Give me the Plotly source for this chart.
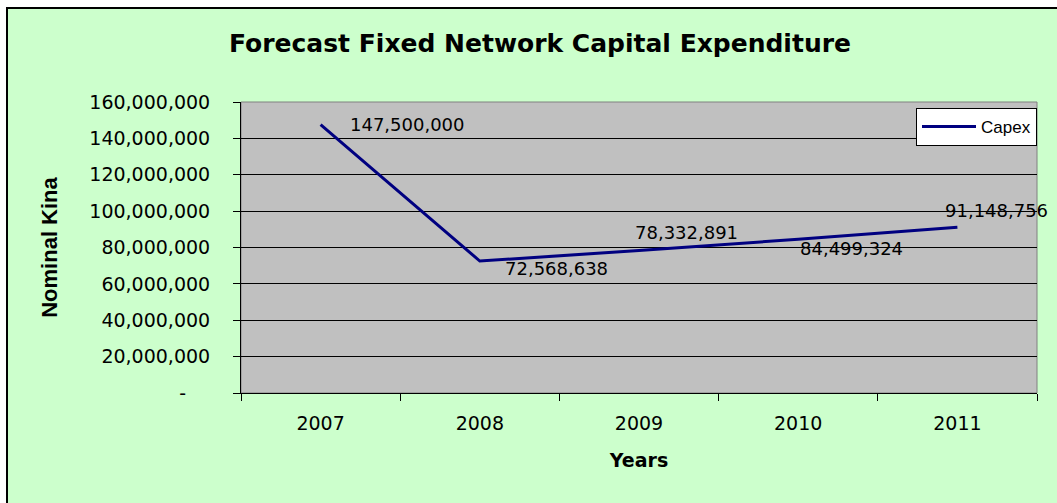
import plotly.graph_objects as go

# ---- data ----
years = ["2007", "2008", "2009", "2010", "2011"]
capex = [147500000, 72568638, 78332891, 84499324, 91148756]
capex_labels = ["147,500,000", "72,568,638", "78,332,891", "84,499,324", "91,148,756"]
y_tickvals = [0, 20000000, 40000000, 60000000, 80000000, 100000000, 120000000, 140000000, 160000000]
y_ticktext = ["-\u00a0\u00a0\u00a0\u00a0", "20,000,000", "40,000,000", "60,000,000", "80,000,000",
              "100,000,000", "120,000,000", "140,000,000", "160,000,000"]

# label offsets (pixels) - style only
label_xshift = [27, 23, -6, 0, -14]
label_yshift = [0, -7, 18, -9, 17]

W, H = 1057, 503
L, R, T, B = 241, 1037, 102, 393  # plot area pixel box

NUM_FONT = dict(family="DejaVu Sans", size=19, color="black")
LBL_FONT = dict(family="DejaVu Sans", size=18, color="black")

fig = go.Figure()
fig.add_trace(go.Scatter(
    x=years, y=capex, mode="lines", name="Capex",
    line=dict(color="#000080", width=3),
))

for i in range(len(years)):
    fig.add_annotation(
        x=i, y=capex[i], xref="x", yref="y",
        text=capex_labels[i], showarrow=False,
        xanchor="left", yanchor="middle",
        xshift=label_xshift[i], yshift=label_yshift[i],
        font=LBL_FONT,
    )

pw, ph = R - L, B - T
def px_x(p):
    return (p - L) / pw
def px_y(p):
    return (B - p) / ph

# outer green chart frame
fig.add_shape(type="rect", xref="paper", yref="paper",
              x0=px_x(7), x1=px_x(1070), y0=px_y(520), y1=px_y(8),
              fillcolor="#CCFFCC", line=dict(color="black", width=2), layer="below")
# gray plot area
fig.add_shape(type="rect", xref="paper", yref="paper",
              x0=0, x1=1, y0=0, y1=1,
              fillcolor="#C0C0C0", line=dict(color="#808080", width=1), layer="below")

fig.update_layout(
    width=W, height=H,
    margin=dict(l=L, r=W - R, t=T, b=H - B, pad=0),
    paper_bgcolor="white",
    plot_bgcolor="#C0C0C0",
    title=dict(text="<b>Forecast Fixed Network Capital Expenditure</b>",
               x=540 / W, xref="container", xanchor="center",
               y=1 - 43 / H, yref="container", yanchor="middle",
               font=dict(family="DejaVu Sans", size=25, color="black")),
    showlegend=True,
    legend=dict(x=1.0, xanchor="right", y=px_y(108), yanchor="top",
                bgcolor="white", bordercolor="black", borderwidth=1,
                font=dict(family="Liberation Sans", size=17, color="black"),
                itemwidth=54),
    xaxis=dict(
        type="category", range=[-0.5, 4.5],
        showgrid=False, zeroline=False,
        showline=True, linecolor="black", linewidth=1,
        ticks="outside", tickson="boundaries", ticklen=7, tickcolor="black",
        tickfont=NUM_FONT, ticklabelstandoff=13,
        title=dict(text="<b>Years</b>", standoff=20,
                   font=dict(family="DejaVu Sans", size=19, color="black")),
    ),
    yaxis=dict(
        range=[0, 160000000],
        tickvals=y_tickvals, ticktext=y_ticktext,
        showgrid=True, gridcolor="black", gridwidth=1,
        zeroline=False,
        showline=True, linecolor="black", linewidth=1,
        ticks="outside", ticklen=7, tickcolor="black",
        tickfont=NUM_FONT, ticklabelstandoff=19,
        title=dict(text="<b>Nominal Kina</b>", standoff=25,
                   font=dict(family="Liberation Sans", size=22, color="black")),
    ),
)

fig.write_html("out.html")
